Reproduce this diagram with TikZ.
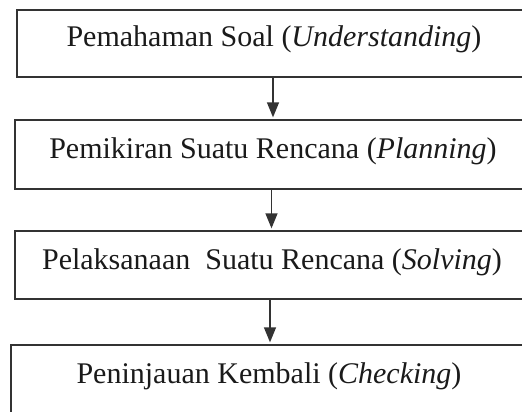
\documentclass[tikz,border=0pt]{standalone}
\usepackage{fontspec}
\setmainfont{Liberation Serif}
\usetikzlibrary{arrows.meta}
\definecolor{linecol}{HTML}{333333}
\definecolor{txtcol}{HTML}{1A1A1A}
\begin{document}
\begin{tikzpicture}[x=1pt,y=1pt,
  box/.style={draw=linecol, line width=1.3pt, inner sep=0pt, rectangle},
  lbl/.style={anchor=base, inner sep=0pt, text=txtcol, font=\fontsize{30}{36}\selectfont},
  arr/.style={draw=linecol, line width=1.3pt, -{Triangle[length=15pt,width=12pt]}, shorten >=2pt}]
\useasboundingbox (0,0) rectangle (522,-412);
\clip (0,0) rectangle (522,-412);
\node[box, minimum width=583pt, minimum height=67pt] (b1) at (308.5,-43.5) {};
\node[box, minimum width=585pt, minimum height=69pt] (b2) at (307.5,-154.5) {};
\node[box, minimum width=585pt, minimum height=68pt] (b3) at (307.5,-265) {};
\node[box, minimum width=589pt, minimum height=95pt] (b4) at (305.5,-392.5) {};
\node[lbl] (t1) at (274,-47) {Pemahaman Soal (\textit{Understanding})};
\node[lbl] (t2) at (273,-158) {Pemikiran Suatu Rencana (\textit{Planning})};
\node[lbl] (t3) at (272,-269) {Pelaksanaan\ \ Suatu Rencana (\textit{Solving})};
\node[lbl] (t4) at (269,-383) {Peninjauan Kembali (\textit{Checking})};
\coordinate (x1) at (273,0);
\coordinate (x2) at (271.5,0);
\coordinate (x3) at (270,0);
\draw[arr] (b1.south -| x1) -- (b2.north -| x1);
\draw[arr] (b2.south -| x2) -- (b3.north -| x2);
\draw[arr] (b3.south -| x3) -- (b4.north -| x3);
\end{tikzpicture}
\end{document}
